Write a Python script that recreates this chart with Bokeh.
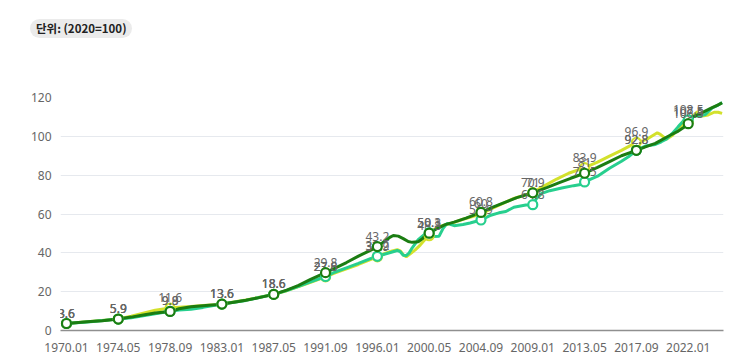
from bokeh.plotting import figure
from bokeh.models import Range1d, FixedTicker, ColumnDataSource, Div
from bokeh.layouts import column
from bokeh.core.properties import value
from bokeh.embed import file_html
from bokeh.resources import INLINE

unit_text = "단위: (2020=100)"

tick_labels = ["1970.01", "1974.05", "1978.09", "1983.01", "1987.05", "1991.09", "1996.01",
               "2000.05", "2004.09", "2009.01", "2013.05", "2017.09", "2022.01"]
y_ticks = [0, 20, 40, 60, 80, 100, 120]

dg_dates = ["1970.01", "1971.01", "1972.01", "1973.01", "1974.05", "1975.06", "1976.06", "1977.06",
            "1978.09", "1979.06", "1980.06", "1981.06", "1982.06", "1983.01", "1984.01", "1985.01",
            "1986.01", "1987.05", "1988.06", "1989.06", "1990.06", "1991.09", "1992.06", "1993.06",
            "1994.06", "1995.06", "1996.01", "1996.07", "1997.01", "1997.05", "1997.10", "1998.03",
            "1998.08", "1998.12", "1999.06", "1999.10", "2000.01", "2000.05", "2001.01", "2001.09",
            "2002.06", "2003.06", "2004.09", "2005.09", "2006.09", "2007.09", "2009.01", "2010.03",
            "2011.03", "2012.03", "2013.05", "2014.06", "2015.06", "2016.06", "2017.09", "2018.06",
            "2019.04", "2020.04", "2021.02", "2021.08", "2022.01", "2022.06", "2022.12", "2023.06",
            "2024.01", "2024.06", "2024.11"]
dg_values = [3.6, 4.1, 4.6, 5.0, 5.9, 6.9, 8.0, 9.0,
             9.8, 11.2, 12.2, 12.8, 13.2, 13.6, 14.6, 15.6,
             16.8, 18.6, 20.8, 23.2, 26.3, 29.8, 32.0, 35.0,
             38.3, 41.3, 43.2, 45.5, 47.8, 48.9, 48.6, 47.3,
             45.8, 45.4, 45.7, 47.2, 48.6, 50.1, 52.5, 54.5,
             55.8, 57.9, 60.8, 63.5, 66.0, 68.4, 70.9, 73.6,
             76.0, 78.4, 81.0, 84.0, 87.0, 90.0, 92.8, 94.6,
             96.4, 99.8, 102.4, 104.4, 106.5, 110.0, 111.4, 113.0,
             114.8, 116.0, 117.2]

yl_dates = ["1970.01", "1972.01", "1974.05", "1975.06", "1976.06", "1977.06", "1978.09", "1979.06",
            "1980.06", "1981.06", "1982.06", "1983.01", "1985.01", "1987.05", "1988.06", "1989.06",
            "1990.06", "1991.09", "1992.06", "1993.06", "1994.06", "1995.06", "1996.01", "1996.08",
            "1997.03", "1997.09", "1997.12", "1998.03", "1998.06", "1998.10", "1999.03", "1999.08",
            "2000.01", "2000.05", "2000.10", "2001.04", "2002.03", "2003.03", "2004.09", "2005.06",
            "2006.06", "2007.06", "2008.06", "2009.01", "2010.01", "2011.01", "2012.01", "2013.05",
            "2014.06", "2015.06", "2016.06", "2017.09", "2018.03", "2018.09", "2019.06", "2019.09",
            "2020.03", "2020.09", "2021.03", "2021.09", "2022.01", "2022.06", "2022.10", "2023.03",
            "2023.09", "2024.03", "2024.07", "2024.11"]
yl_values = [3.6, 4.7, 5.9, 7.3, 8.9, 10.4, 11.6, 12.0,
             12.4, 12.9, 13.3, 13.6, 15.7, 18.6, 20.5, 22.6,
             24.8, 27.6, 29.6, 31.8, 34.0, 36.5, 37.9, 39.6,
             40.8, 41.6, 41.0, 39.0, 38.0, 39.5, 41.5, 44.0,
             47.0, 48.8, 52.0, 53.6, 55.2, 57.3, 60.0, 62.4,
             65.2, 68.0, 70.0, 71.0, 74.6, 78.0, 81.0, 83.9,
             86.7, 89.8, 92.8, 96.9, 97.6, 99.0, 101.8, 101.0,
             98.5, 100.4, 104.0, 106.8, 107.5, 110.6, 112.6, 110.4,
             111.0, 112.4, 112.4, 111.8]

tl_dates = ["1970.01", "1972.01", "1974.05", "1975.06", "1976.06", "1977.06", "1978.09", "1979.06",
            "1980.06", "1981.06", "1982.06", "1983.01", "1985.01", "1987.05", "1988.06", "1989.06",
            "1990.06", "1991.09", "1992.06", "1993.06", "1994.06", "1995.06", "1996.01", "1996.08",
            "1997.03", "1997.09", "1997.12", "1998.03", "1998.06", "1998.09", "1998.12", "1999.06",
            "1999.12", "2000.05", "2000.09", "2001.03", "2001.07", "2001.11", "2002.06", "2003.03",
            "2003.10", "2004.09", "2005.06", "2006.03", "2006.10", "2007.06", "2008.06", "2009.01",
            "2009.05", "2009.10", "2010.06", "2011.06", "2012.06", "2013.01", "2013.05", "2014.06",
            "2015.06", "2016.06", "2017.01", "2017.09", "2018.06", "2019.04", "2019.10", "2020.03",
            "2020.09", "2021.03", "2021.09", "2022.01", "2022.06", "2023.01", "2023.06", "2024.01",
            "2024.06", "2024.11"]
tl_values = [3.6, 4.5, 5.9, 6.6, 7.6, 8.6, 9.9, 10.5,
             11.0, 11.9, 13.0, 13.6, 15.5, 18.6, 20.6, 22.8,
             25.0, 27.8, 30.0, 32.3, 34.6, 37.0, 38.2, 39.3,
             40.3, 41.2, 40.6, 38.8, 38.6, 40.0, 42.6, 46.8,
             49.3, 50.3, 48.4, 48.6, 52.6, 55.2, 54.0, 54.6,
             55.4, 56.9, 59.2, 60.6, 61.3, 63.5, 64.6, 64.8,
             68.2, 70.6, 72.0, 73.4, 74.6, 75.2, 76.5, 79.5,
             83.6, 87.2, 89.5, 92.8, 95.0, 95.8, 97.2, 98.5,
             101.5, 105.0, 108.4, 108.5, 110.4, 110.6, 111.2, 114.6,
             115.8, 117.4]

series = [
    (yl_dates, yl_values, "#d3e12c"),
    (tl_dates, tl_values, "#27cf8e"),
    (dg_dates, dg_values, "#1b7d12"),
]


def month_index(s):
    y, m = s.split(".")
    return (int(y) - 1970) * 12 + int(m) - 1


header = Div(
    text=(f'<span style="display:inline-block;background:#ebebeb;border-radius:10px;'
          f'padding:3px 6px;font-family:\'Noto Sans CJK KR\';font-size:11.5px;font-weight:bold;'
          f'line-height:13px;color:#222;">{unit_text}</span>'),
    width=750, height=50, margin=0,
    styles={"padding-top": "19px", "padding-left": "30px", "box-sizing": "border-box",
            "overflow": "hidden", "line-height": "13px"})

p = figure(width=750, height=304, output_backend="svg", toolbar_location=None,
           x_range=Range1d(-6.0, 659.4), y_range=Range1d(0, 120),
           min_border_left=60, min_border_right=27, min_border_top=47, min_border_bottom=23)
p.outline_line_color = None
p.background_fill_color = "white"
p.border_fill_color = "white"

p.xgrid.grid_line_color = None
p.ygrid.grid_line_color = "#e6e9ee"
p.ygrid.grid_line_width = 1

p.yaxis.ticker = FixedTicker(ticks=y_ticks)
p.yaxis.axis_line_color = None
p.yaxis.major_tick_line_color = None
p.yaxis.minor_tick_line_color = None
p.yaxis.major_label_standoff = 3
p.yaxis.major_label_text_font = "Noto Sans"
p.yaxis.major_label_text_font_size = "12px"
p.yaxis.major_label_text_color = "#666666"

tick_pos = [month_index(t) for t in tick_labels]
p.xaxis.ticker = FixedTicker(ticks=tick_pos)
p.xaxis.major_label_overrides = {pos: lab for pos, lab in zip(tick_pos, tick_labels)}
p.xaxis.axis_line_color = "#8f8f8f"
p.xaxis.axis_line_width = 1.5
p.xaxis.major_tick_line_color = None
p.xaxis.minor_tick_line_color = None
p.xaxis.major_label_standoff = 6
p.xaxis.major_label_text_font = "Noto Sans"
p.xaxis.major_label_text_font_size = "12px"
p.xaxis.major_label_text_color = "#666666"

for dates, vals, color in series:
    xs = [month_index(d) for d in dates]
    p.line(xs, vals, line_color=color, line_width=3)

for dates, vals, color in series:
    mx, my, mt = [], [], []
    for d, v in zip(dates, vals):
        if d in tick_labels:
            mx.append(month_index(d))
            my.append(v)
            mt.append(f"{v:g}")
    src = ColumnDataSource(dict(x=mx, y=my, t=mt))
    p.scatter("x", "y", source=src, size=9, fill_color="white", line_color=color, line_width=2.2)
    p.text("x", "y", text="t", source=src, text_align="center", text_baseline="bottom",
           y_offset=-6, text_font=value("Noto Sans"), text_font_size="12px", text_color="#666666")

layout = column(header, p, spacing=0)

open("out.html", "w").write(file_html(layout, INLINE))
